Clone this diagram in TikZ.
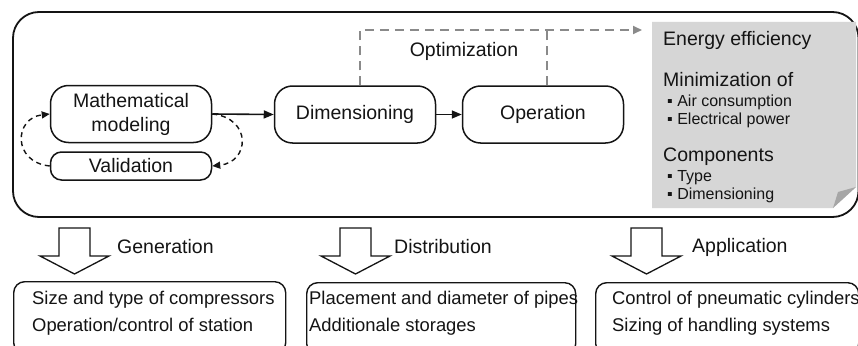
\documentclass[tikz,border=0pt]{standalone}
\usepackage{fontspec}
\setmainfont{Liberation Sans}
\usetikzlibrary{arrows.meta}
\definecolor{txt}{HTML}{141414}
\definecolor{notegray}{HTML}{D6D6D6}
\definecolor{foldgray}{HTML}{A6A6A6}
\definecolor{dashgray}{HTML}{8A8A8A}
\begin{document}
\begin{tikzpicture}[x=1pt,y=-1pt,
  font=\fontsize{19.5}{24}\selectfont, text=txt,
  proc/.style={draw=txt, line width=1.5pt, rounded corners=18pt, minimum width=161pt,
    minimum height=57pt, inner sep=0pt, align=center},
  valbox/.style={draw=txt, line width=1.5pt, rounded corners=11pt, minimum width=161pt,
    minimum height=28pt, inner sep=0pt},
  lowbox/.style={draw=txt, line width=1.4pt, rounded corners=11pt, anchor=north west, inner sep=0pt},
  lbl/.style={anchor=west, inner sep=0pt},
  small/.style={anchor=west, inner sep=0pt, font=\fontsize{18.4}{22}\selectfont},
  bul/.style={anchor=west, inner sep=0pt, font=\fontsize{16}{18}\selectfont},
  flow/.style={line width=1.6pt, draw=txt, -{Triangle[length=10pt,width=8pt]}},
  loopline/.style={line width=1.4pt, draw=txt, dash pattern=on 5pt off 4pt, -{Triangle[length=8pt,width=7pt]}},
  optline/.style={line width=1.8pt, draw=dashgray, dash pattern=on 9pt off 6pt},
  bigarrow/.pic={\draw[draw=txt, line width=1.3pt, fill=white] (-15.5,0) -- (15.5,0) -- (15.5,28) -- (34.5,28) -- (0,46) -- (-34.5,28) -- (-15.5,28) -- cycle;}
]
\clip (0,0) rectangle (858,345);
\fill[white] (0,0) rectangle (858,345);

% outer frame
\draw[draw=txt, line width=1.8pt, rounded corners=26pt] (13,12) rectangle (858.5,217);

% note
\fill[notegray] (652,22) -- (856,22) -- (856,187) -- (833,208) -- (652,208) -- cycle;
\fill[foldgray] (833,208) -- (856,187) -- (838,192) -- cycle;
\node[lbl] (ee) at (663,40) {Energy efficiency};
\node[lbl] (mini) at (663,80) {Minimization of};
\node[bul] (b1) at (667,102) {▪ Air consumption};
\node[bul] (b2) at (667,120) {▪ Electrical power};
\node[lbl] (comp) at (663,157) {Components};
\node[bul] (b3) at (667,178) {▪ Type};
\node[bul] (b4) at (667,195) {▪ Dimensioning};

% process nodes
\node[proc] (math) at (131,114) {Mathematical\\modeling};
\node[valbox] (valid) at (131,166) {Validation};
\node[proc] (dim) at (355,114.5) {Dimensioning};
\node[proc] (op) at (543,114.5) {Operation};

\draw[flow] (math.east) -- (dim.west);
\draw[flow] (dim.east) -- (op.west);

\draw[loopline] (valid.west) .. controls (12,162) and (14,118) .. (math.west);
\draw[loopline] (math.east) .. controls (252,118) and (250,162) .. (valid.east);

% optimization loop
\coordinate (optend) at (642,30);
\draw[optline, -{Triangle[length=9pt,width=8pt]}] ([xshift=5pt]dim.north) |- (optend);
\draw[optline] ([xshift=4pt]op.north) -- ([xshift=4pt]op.north |- optend);
\node (optl) at (464,51) {Optimization};

% bottom arrows
\pic at (74.5,228) {bigarrow};
\pic at (355.5,228) {bigarrow};
\pic at (646.5,228) {bigarrow};
\node[lbl] (gen) at (117,247) {Generation};
\node[lbl] (dist) at (394,247) {Distribution};
\node[lbl] (app) at (692,247) {Application};

% bottom boxes
\node[lowbox, minimum width=272pt, minimum height=72pt] (genbox) at (13,281) {};
\node[lowbox, minimum width=269pt, minimum height=72pt] (distbox) at (306,282) {};
\node[lowbox, minimum width=263pt, minimum height=72pt] (appbox) at (595,282) {};
\node[small] (g1) at (32,300) {Size and type of compressors};
\node[small] (g2) at (32,327) {Operation/control of station};
\node[small] (d1) at (309,300) {Placement and diameter of pipes};
\node[small] (d2) at (309,327) {Additionale storages};
\node[small] (a1) at (612,300) {Control of pneumatic cylinders};
\node[small] (a2) at (612,327) {Sizing of handling systems};
\end{tikzpicture}
\end{document}
